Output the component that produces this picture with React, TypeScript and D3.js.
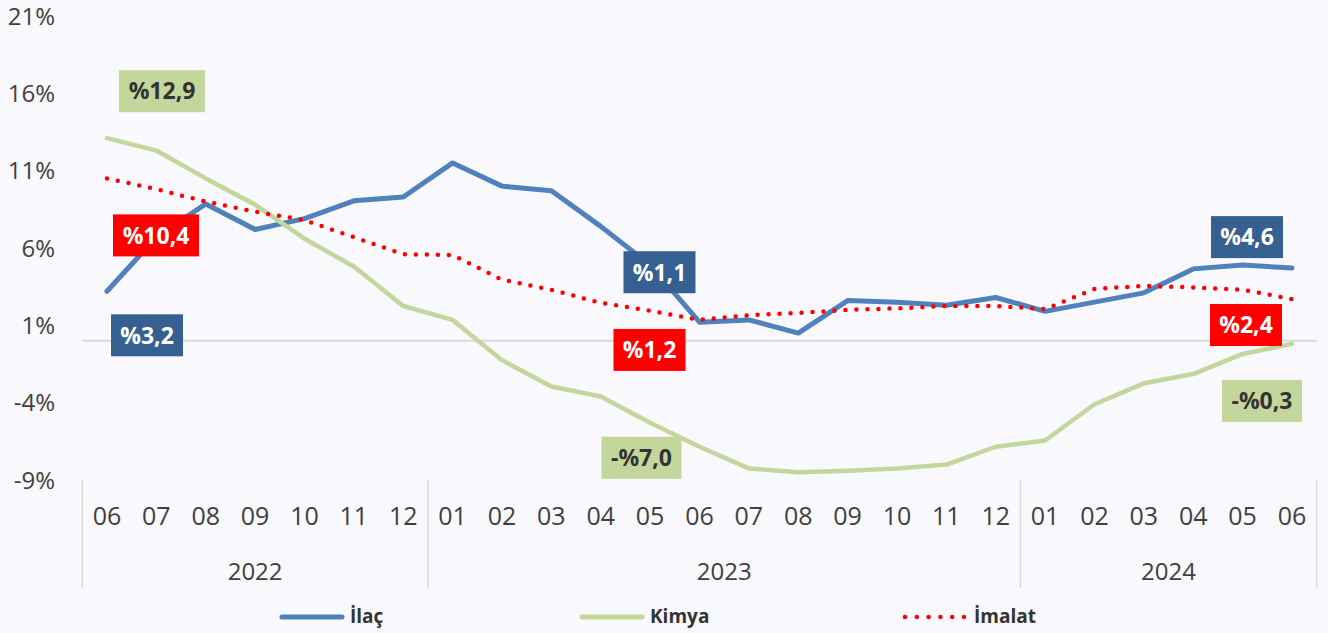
import { useEffect } from 'react';
import * as d3 from 'd3';

const months = ['06', '07', '08', '09', '10', '11', '12', '01', '02', '03', '04', '05', '06', '07', '08', '09', '10', '11', '12', '01', '02', '03', '04', '05', '06'];
const years = [
  { label: '2022', from: 0, to: 6 },
  { label: '2023', from: 7, to: 18 },
  { label: '2024', from: 19, to: 24 },
];
const ilac = [3.2, 6.7, 8.85, 7.2, 7.9, 9.05, 9.3, 11.5, 10.0, 9.7, 7.4, 4.9, 1.2, 1.35, 0.5, 2.6, 2.5, 2.3, 2.8, 1.9, 2.5, 3.1, 4.65, 4.9, 4.7];
const kimya = [13.1, 12.3, 10.5, 8.8, 6.6, 4.8, 2.25, 1.35, -1.25, -2.95, -3.6, -5.3, -6.85, -8.25, -8.5, -8.4, -8.25, -8.0, -6.85, -6.45, -4.1, -2.75, -2.15, -0.85, -0.2];
const imalat = [10.5, 9.8, 9.0, 8.35, 7.8, 6.7, 5.6, 5.55, 3.95, 3.3, 2.45, 1.95, 1.35, 1.65, 1.8, 2.0, 2.1, 2.25, 2.25, 2.05, 3.35, 3.55, 3.45, 3.3, 2.7];
const yTicks = [21, 16, 11, 6, 1, -4, -9];

const series = [
  { name: 'İlaç', values: ilac, color: '#4f81bd', width: 5, dash: null, box: '#376092', text: '#fff' },
  { name: 'Kimya', values: kimya, color: '#c3d69b', width: 4.5, dash: null, box: '#c3d69b', text: '#333' },
  { name: 'İmalat', values: imalat, color: '#ff0000', width: 4.5, dash: '0 11', box: '#ff0000', text: '#fff' },
];

// data labels: series index, point index, text, box centre offset, box width
const labels = [
  { s: 1, i: 0, text: '%12,9', dx: 55, dy: -47, w: 86 },
  { s: 2, i: 0, text: '%10,4', dx: 49, dy: 57, w: 86 },
  { s: 0, i: 0, text: '%3,2', dx: 40, dy: 44, w: 72 },
  { s: 0, i: 12, text: '%1,1', dx: -40, dy: -50, w: 72 },
  { s: 2, i: 12, text: '%1,2', dx: -50, dy: 30, w: 72 },
  { s: 1, i: 12, text: '-%7,0', dx: -58, dy: 11, w: 80 },
  { s: 0, i: 24, text: '%4,6', dx: -45, dy: -31, w: 72 },
  { s: 2, i: 24, text: '%2,4', dx: -46, dy: 26, w: 72 },
  { s: 1, i: 24, text: '-%0,3', dx: -30, dy: 57, w: 80 },
];

const legendX = [280, 580, 903];

const W = 1328;
const H = 633;
const font = '"Open Sans", sans-serif';

export default function App() {
  useEffect(() => {
    document.body.style.margin = '0';
  }, []);

  const x = d3.scaleLinear().domain([0, 24]).range([107, 1292]);
  const y = d3.scaleLinear().domain([-9, 21]).range([480, 16]);

  const line = d3.line<number>()
    .x((_, i) => x(i))
    .y(d => y(d));

  const seps = [-0.5, 6.5, 18.5, 24.5];

  return (
    <svg width={W} height={H} style={{ display: 'block', background: '#f9f8fc' }} fontFamily={font}>
      {/* y axis labels */}
      {yTicks.map(t => (
        <text key={t} x={55} y={y(t)} dy="0.36em" textAnchor="end" fontSize={24} fill="#404040">
          {t}%
        </text>
      ))}

      {/* zero line */}
      <line x1={x(-0.5)} x2={x(24.5)} y1={y(0)} y2={y(0)} stroke="#d9d9d9" strokeWidth={2} />

      {/* category separators */}
      {seps.map(s => (
        <line key={s} x1={x(s)} x2={x(s)} y1={480} y2={588} stroke="#d9d9d9" strokeWidth={1.5} />
      ))}

      {/* month labels */}
      {months.map((m, i) => (
        <text key={i} x={x(i)} y={516} dy="0.36em" textAnchor="middle" fontSize={25} fill="#404040">
          {m}
        </text>
      ))}

      {/* year labels */}
      {years.map(yr => (
        <text key={yr.label} x={(x(yr.from) + x(yr.to)) / 2} y={571} dy="0.36em" textAnchor="middle" fontSize={24} fill="#404040">
          {yr.label}
        </text>
      ))}

      {/* lines */}
      {series.map(s => (
        <path
          key={s.name}
          d={line(s.values) ?? ''}
          fill="none"
          stroke={s.color}
          strokeWidth={s.width}
          strokeLinecap="round"
          strokeLinejoin="round"
          strokeDasharray={s.dash ?? undefined}
        />
      ))}

      {/* data labels */}
      {labels.map((l, k) => {
        const s = series[l.s];
        const cx = x(l.i) + l.dx;
        const cy = y(s.values[l.i]) + l.dy;
        return (
          <g key={k}>
            <rect x={cx - l.w / 2} y={cy - 21} width={l.w} height={42} fill={s.box} />
            <text x={cx} y={cy} dy="0.36em" textAnchor="middle" fontSize={23} fontWeight="bold" fill={s.text}>
              {l.text}
            </text>
          </g>
        );
      })}

      {/* legend */}
      {series.map((s, i) => {
        const lx = legendX[i];
        return (
          <g key={s.name}>
            <line
              x1={lx + 2}
              x2={lx + 62}
              y1={617}
              y2={617}
              stroke={s.color}
              strokeWidth={s.dash ? 4.5 : 5}
              strokeLinecap="round"
              strokeDasharray={s.dash ? '0 11.8' : undefined}
            />
            <text x={lx + (s.dash ? 71 : 70)} y={616} dy="0.36em" fontSize={19} fontWeight="bold" fill="#333">
              {s.name}
            </text>
          </g>
        );
      })}
    </svg>
  );
}
